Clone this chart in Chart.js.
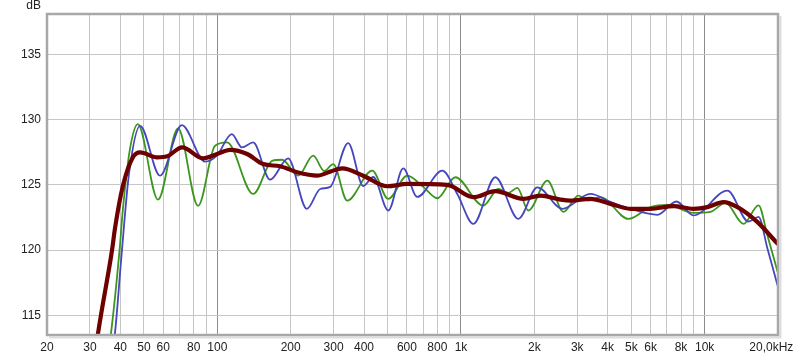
<!DOCTYPE html>
<html><head><meta charset="utf-8">
<script src="https://cdn.jsdelivr.net/npm/chart.js@4/dist/chart.umd.min.js"></script>
<style>html,body{margin:0;padding:0;background:#fff;overflow:hidden}</style>
</head><body>
<canvas id="c" width="800" height="356"></canvas>
<script>
// ---- data (frequency in Hz, level in dB) ----
const greenFreq = [35.6, 36.6, 39.7, 41.0, 43.8, 47.2, 57.1, 69.0, 83.4, 97.9, 109.7, 140.3, 167.9, 184.5, 214.7, 247.5, 274.6, 299, 341.2, 432.3, 503, 601.8, 700, 799.4, 947.6, 1235, 1423, 1564, 1703, 1890, 2262, 2632, 3032, 3333, 3733, 4864, 5990, 7034, 8995, 10565, 12172, 14434, 16637, 18112, 19908];
const greenDb   = [112.1, 113.6, 120.0, 123.2, 127.75, 129.66, 123.88, 129.33, 123.4, 128.0, 128.26, 124.31, 126.85, 126.93, 125.71, 127.24, 126.07, 126.6, 123.8, 126.09, 123.93, 125.71, 124.85, 123.98, 125.59, 123.42, 124.69, 124.39, 124.77, 123.04, 125.33, 122.94, 124.18, 123.8, 124.06, 122.4, 123.3, 123.47, 122.86, 122.94, 123.63, 122.02, 123.44, 121.1, 118.36];

const blueFreq = [37.0, 38.0, 40.6, 43.4, 48.2, 58.2, 71.5, 89.1, 99.5, 114.7, 126.1, 140.3, 164.7, 195.3, 233, 264.4, 290.6, 344.4, 397, 436.4, 503, 579.5, 661.5, 838, 965.8, 1124, 1383, 1719, 2058, 2606, 3396, 4104, 4960, 6400, 7660, 8995, 12404, 15136, 16637, 18112, 19908];
const blueDb   = [112.1, 113.6, 119.98, 125.84, 129.53, 125.71, 129.58, 126.78, 127.24, 128.89, 127.88, 128.26, 125.4, 127.04, 123.17, 124.69, 124.85, 128.21, 124.92, 125.61, 123.04, 126.27, 124.08, 126.09, 124.31, 122.02, 125.59, 122.4, 124.82, 123.17, 124.31, 123.7, 123.17, 122.71, 123.73, 122.66, 124.56, 122.2, 122.56, 120.11, 117.31];

const avgFreq = [31.8, 32.4, 37.0, 38.0, 41.0, 45.1, 48.2, 56.6, 62.2, 71.7, 87.4, 99.8, 112.9, 132.6, 154.3, 181.1, 212.7, 257, 290.6, 325.4, 397, 498, 601.8, 878, 1124, 1383, 1802, 2117, 2558, 2811, 3396, 4104, 4960, 5990, 7446, 8995, 10268, 11946, 13638, 16478, 19908];
const avgDb   = [112.48, 113.63, 120.04, 121.64, 124.95, 127.14, 127.5, 127.11, 127.19, 127.88, 127.04, 127.37, 127.69, 127.37, 126.6, 126.43, 125.97, 125.71, 126.02, 126.27, 125.71, 124.9, 125.08, 125.0, 124.06, 124.52, 123.93, 124.18, 123.88, 123.8, 123.93, 123.55, 123.17, 123.17, 123.37, 123.17, 123.3, 123.68, 123.3, 122.15, 120.5];

// ---- axes ----
const gridFreqs = [20,30,40,50,60,70,80,90,100,200,300,400,500,600,700,800,900,1000,2000,3000,4000,5000,6000,7000,8000,9000,10000,20000];
const decadeFreqs = [100, 1000, 10000];
const xLabelFreqs = [20,30,40,50,60,80,100,200,300,400,600,800,1000,2000,3000,4000,5000,6000,8000,10000,20000];
const xLabelTexts = ['20','30','40','50','60','80','100','200','300','400','600','800','1k','2k','3k','4k','5k','6k','8k','10k','20,0kHz    '];
const yTicks = [115, 120, 125, 130, 135];
const yUnit = 'dB';

const FONT = {family: '"Liberation Sans", Arial, sans-serif', size: 12};
const toXY = (fs, ds) => fs.map((f, i) => ({x: f, y: ds[i]}));

const framePlugin = {
  id: 'frame',
  afterDraw(chart) {
    const {ctx, chartArea: a} = chart;
    ctx.save();
    // shadow
    ctx.strokeStyle = '#dddddd';
    ctx.lineWidth = 2;
    ctx.beginPath();
    ctx.moveTo(a.right + 2.5, a.top + 2);
    ctx.lineTo(a.right + 2.5, a.bottom + 2.5);
    ctx.lineTo(a.left + 2, a.bottom + 2.5);
    ctx.stroke();
    // border
    ctx.strokeStyle = '#a8a8a8';
    ctx.lineWidth = 2.5;
    ctx.strokeRect(a.left, a.top, a.right - a.left, a.bottom - a.top);
    // unit label
    ctx.fillStyle = '#222';
    ctx.font = '12px ' + FONT.family;
    ctx.textAlign = 'right';
    ctx.textBaseline = 'middle';
    ctx.fillText(yUnit, 41, 6);
    ctx.restore();
  }
};

new Chart(document.getElementById('c'), {
  type: 'line',
  data: {
    datasets: [
      {data: toXY(avgFreq, avgDb), borderColor: 'rgb(110,0,0)', borderWidth: 4.2, clip: 0},
      {data: toXY(blueFreq, blueDb), borderColor: 'rgb(70,70,190)', borderWidth: 1.8, clip: 0},
      {data: toXY(greenFreq, greenDb), borderColor: 'rgb(60,150,30)', borderWidth: 1.8, clip: 0}
    ]
  },
  options: {
    responsive: false,
    animation: false,
    events: [],
    layout: {padding: {top: 14, right: 22, left: 0, bottom: 0}},
    elements: {
      point: {radius: 0},
      line: {cubicInterpolationMode: 'monotone', fill: false, borderCapStyle: 'round', borderJoinStyle: 'round'}
    },
    plugins: {legend: {display: false}, tooltip: {enabled: false}},
    scales: {
      x: {
        type: 'logarithmic',
        min: 20, max: 20000,
        afterBuildTicks: s => { s.ticks = gridFreqs.map(v => ({value: v})); },
        afterFit: s => { s.height = 21; s.paddingLeft = 0; s.paddingRight = 0; },
        ticks: {
          autoSkip: false, maxRotation: 0, minRotation: 0, padding: 5,
          font: FONT, color: '#222',
          callback: v => { const i = xLabelFreqs.indexOf(v); return i >= 0 ? xLabelTexts[i] : ''; }
        },
        grid: {
          drawTicks: false, lineWidth: 1,
          color: c => (c.tick && decadeFreqs.includes(c.tick.value)) ? '#8c8c8c' : '#c6c6c6'
        },
        border: {display: false}
      },
      y: {
        type: 'linear',
        min: 113.5, max: 138.1,
        afterBuildTicks: s => { s.ticks = yTicks.map(v => ({value: v})); },
        afterFit: s => { s.width = 47; },
        ticks: {padding: 6, font: FONT, color: '#222', callback: v => String(v)},
        grid: {drawTicks: false, lineWidth: 1, color: '#c6c6c6'},
        border: {display: false}
      }
    }
  },
  plugins: [framePlugin]
});
</script>
</body></html>
